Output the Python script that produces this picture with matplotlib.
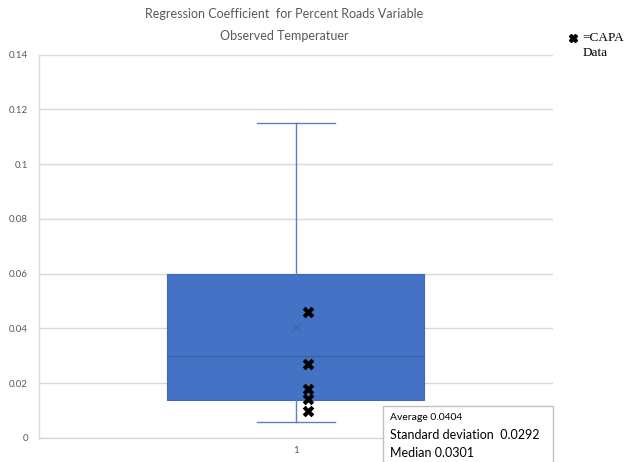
import matplotlib
matplotlib.use('Agg')
import matplotlib.pyplot as plt
from matplotlib.patches import Rectangle

# box summary
categories = ['1']
whisker_low = 0.006
q1 = 0.014
median = 0.0301
q3 = 0.060
whisker_high = 0.115
mean = 0.0404

# CAPA data points
capa_values = [0.0459, 0.0272, 0.0178, 0.0141, 0.0099]

y_ticks = [0, 0.02, 0.04, 0.06, 0.08, 0.1, 0.12, 0.14]
y_tick_labels = ['0', '0.02', '0.04', '0.06', '0.08', '0.1', '0.12', '0.14']

stats_lines = ['Average 0.0404', 'Standard deviation  0.0292', 'Median 0.0301']

plt.rcParams['font.family'] = ['Lato', 'DejaVu Sans']

fig = plt.figure(figsize=(6.24, 4.62), dpi=100)
ax = fig.add_axes([0.0625, 0.052, 0.8235, 0.8295])

blue = '#4472C4'
stats = [{'med': median, 'q1': q1, 'q3': q3, 'whislo': whisker_low,
          'whishi': whisker_high, 'mean': mean, 'fliers': [], 'label': categories[0]}]
ax.bxp(stats, positions=[1], widths=0.5, showmeans=True, patch_artist=True,
       boxprops=dict(facecolor=blue, edgecolor='#4068B8', linewidth=0.8),
       medianprops=dict(color='#3A5FA6', linewidth=1.0),
       whiskerprops=dict(color='#5B7FC4', linewidth=1.0),
       capprops=dict(color='#5B7FC4', linewidth=1.0),
       capwidths=0.152,
       meanprops=dict(marker='x', markeredgecolor='#3B5C9E', markersize=6,
                      markeredgewidth=0.6))

ax.scatter([1.023] * len(capa_values), capa_values, marker='X', s=70,
           color='black', zorder=5, linewidths=0)

ax.set_xlim(0.5, 1.5)
ax.set_ylim(0, 0.14)
ax.set_yticks(y_ticks)
ax.set_yticklabels(y_tick_labels)
ax.yaxis.grid(True, color='#D9D9D9', linewidth=1.0)
ax.set_axisbelow(True)
ax.tick_params(length=0, labelsize=7, colors='#595959', pad=8)
ax.tick_params(axis='x', pad=6)
for s in ['top', 'right']:
    ax.spines[s].set_visible(False)
for s in ['left', 'bottom']:
    ax.spines[s].set_color('#D9D9D9')
    ax.spines[s].set_linewidth(1.0)

fig.text(0.455, 0.982, 'Regression Coefficient  for Percent Roads Variable\nObserved Temperatuer',
         ha='center', va='top', fontsize=9, color='#595959', linespacing=2.0)

# legend for CAPA markers
fig.text(0.934, 0.902, '=CAPA\nData', ha='left', va='center', fontsize=9.5,
         family='Liberation Serif', linespacing=1.35)
fig.lines.append(plt.Line2D([0.918], [0.918], marker='X', color='black',
                            markersize=6, linewidth=0, transform=fig.transFigure))

# statistics box
fig.patches.append(Rectangle((0.614, -0.05), 0.272, 0.171, transform=fig.transFigure,
                             facecolor='white', edgecolor='#BFBFBF', linewidth=1.0, zorder=3))
fig.text(0.625, 0.097, stats_lines[0], fontsize=7.5, va='center', zorder=4)
fig.text(0.625, 0.058, stats_lines[1], fontsize=9, va='center', zorder=4)
fig.text(0.625, 0.020, stats_lines[2], fontsize=9, va='center', zorder=4)

fig.savefig('out.png', dpi=100)
